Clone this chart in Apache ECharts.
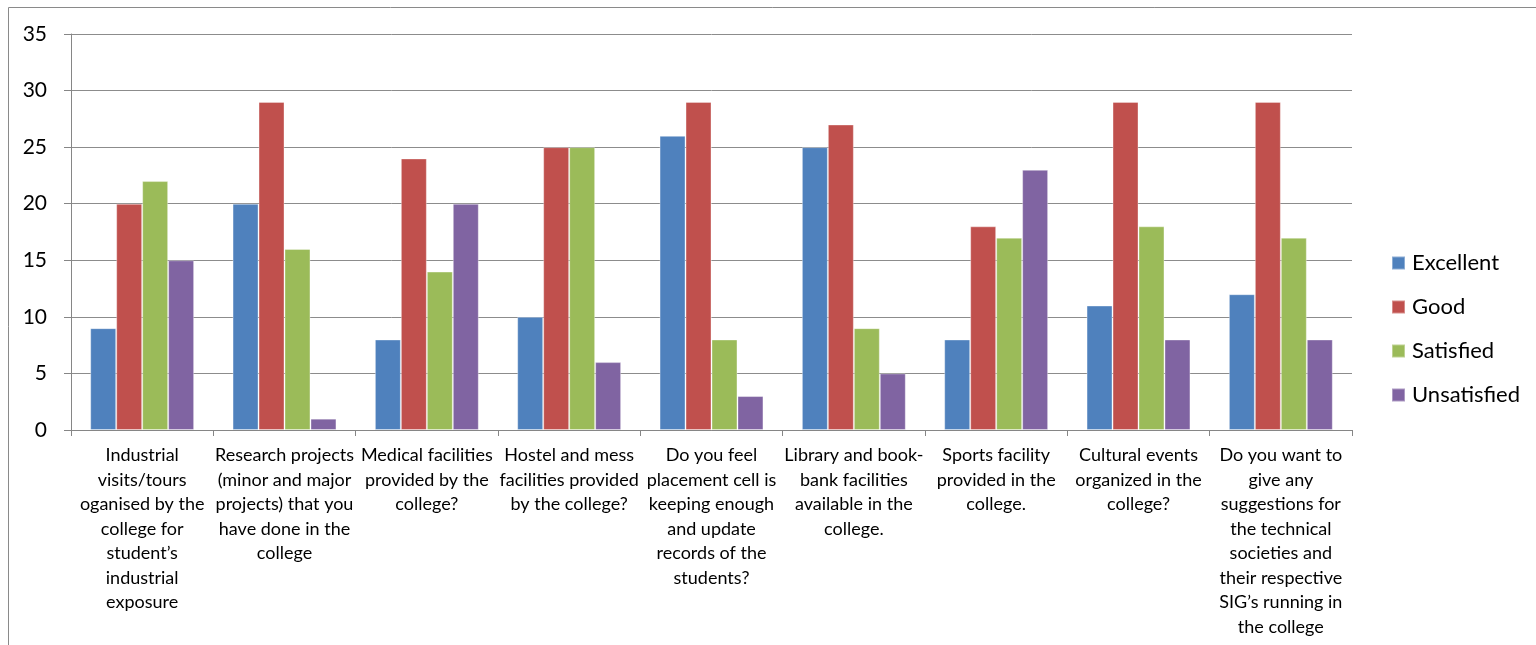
<!DOCTYPE html>
<html>
<head>
<meta charset="utf-8">
<script src="https://cdn.jsdelivr.net/npm/echarts@6/dist/echarts.min.js"></script>
<style>
html,body{margin:0;padding:0;background:#fff;}
#chart{width:1536px;height:645px;}
</style>
</head>
<body>
<div id="chart"></div>
<script>
const categories = [
  "Industrial\nvisits/tours\noganised by the\ncollege for\nstudent\u2019s\nindustrial\nexposure",
  "Research projects\n(minor and major\nprojects) that you\nhave done in the\ncollege",
  "Medical facilities\nprovided by the\ncollege?",
  "Hostel and mess\nfacilities provided\nby the college?",
  "Do you feel\nplacement cell is\nkeeping enough\nand update\nrecords of the\nstudents?",
  "Library and book-\nbank facilities\navailable in the\ncollege.",
  "Sports facility\nprovided in the\ncollege.",
  "Cultural events\norganized in the\ncollege?",
  "Do you want to\ngive any\nsuggestions for\nthe technical\nsocieties and\ntheir respective\nSIG\u2019s running in\nthe college"
];
const excellent   = [9, 20, 8, 10, 26, 25, 8, 11, 12];
const good        = [20, 29, 24, 25, 29, 27, 18, 29, 29];
const satisfied   = [22, 16, 14, 25, 8, 9, 17, 18, 17];
const unsatisfied = [15, 1, 20, 6, 3, 5, 23, 8, 8];
const seriesNames = ["Excellent", "Good", "Satisfied", "Unsatisfied"];
const colors = ["#4F81BD", "#C0504D", "#9BBB59", "#8064A2"];
const yTicks = { min: 0, max: 35, interval: 5 };

const FONT = "Lato, 'Open Sans', sans-serif";
const chart = echarts.init(document.getElementById('chart'));
const dataSets = [excellent, good, satisfied, unsatisfied];

chart.setOption({
  animation: false,
  textStyle: { fontFamily: FONT, color: '#000' },
  graphic: [{
    type: 'rect',
    shape: { x: 8.5, y: 7.5, width: 2000, height: 1000 },
    style: { fill: 'none', stroke: '#8a8a8a', lineWidth: 1 },
    silent: true
  }],
  grid: { left: 71, right: 184, top: 34, bottom: 215, containLabel: false },
  legend: {
    orient: 'vertical',
    left: 1391,
    top: 252,
    padding: 0,
    itemWidth: 13,
    itemHeight: 13,
    itemGap: 22,
    icon: 'rect',
    textStyle: { fontFamily: FONT, fontSize: 22, color: '#000', padding: [0, 0, 0, 2] },
    data: seriesNames
  },
  xAxis: {
    type: 'category',
    data: categories,
    axisLine: { lineStyle: { color: '#868686', width: 1 } },
    axisTick: { show: true, length: 6, alignWithLabel: false, lineStyle: { color: '#868686' } },
    axisLabel: {
      interval: 0,
      margin: 13,
      fontFamily: FONT,
      fontSize: 18,
      lineHeight: 24.5,
      color: '#000',
      align: 'center'
    },
    splitLine: { show: false }
  },
  yAxis: {
    type: 'value',
    min: yTicks.min,
    max: yTicks.max,
    interval: yTicks.interval,
    axisLine: { show: true, lineStyle: { color: '#868686', width: 1 } },
    axisTick: { show: true, length: 7, lineStyle: { color: '#868686' } },
    axisLabel: { margin: 24, fontFamily: FONT, fontSize: 21, color: '#000' },
    splitLine: { show: true, lineStyle: { color: '#8c8c8c', width: 1 } }
  },
  series: seriesNames.map((n, i) => ({
    name: n,
    type: 'bar',
    data: dataSets[i],
    barGap: '0%',
    barCategoryGap: '27%',
    itemStyle: { color: colors[i], borderColor: 'rgba(255,255,255,0.35)', borderWidth: 1 }
  }))
});
</script>
</body>
</html>
